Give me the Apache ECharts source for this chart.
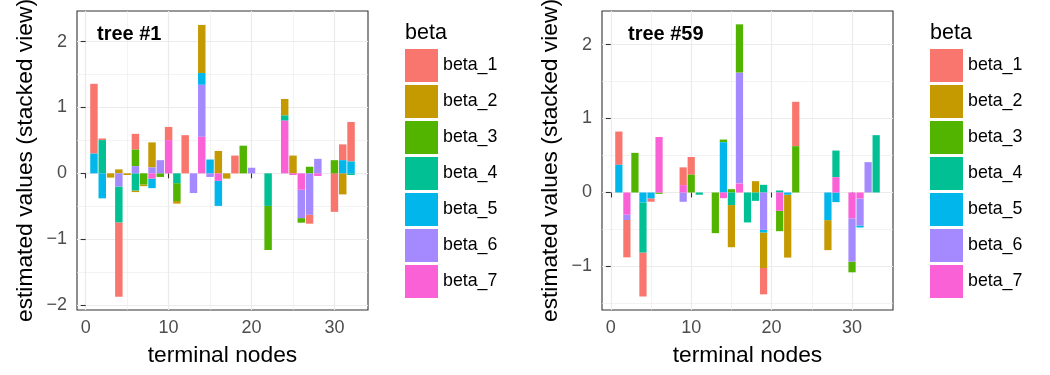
<!DOCTYPE html>
<html><head><meta charset="utf-8">
<script src="https://cdn.jsdelivr.net/npm/echarts@6/dist/echarts.min.js"></script>
<style>html,body{margin:0;padding:0;background:#fff}#c{width:1050px;height:375px}</style>
</head><body><div id="c"></div>
<script>
const betaNames = ['beta_1','beta_2','beta_3','beta_4','beta_5','beta_6','beta_7'];
const betaColors = ['#F8766D','#C49A00','#53B400','#00C094','#00B6EB','#A58AFF','#FB61D7'];
const panelTitles = ['tree #1','tree #59'];
const xTicks = [0,10,20,30];
const xMinor = [5,15,25];
const yTicks1 = [-2,-1,0,1,2];
const yTicks2 = [-1,0,1,2];
const yMinor = [-1.5,-0.5,0.5,1.5];

const nodes1 = Array.from({length:32},(_, i)=>i+1);
const nodes2 = Array.from({length:33},(_, i)=>i+1);

// tree #1 (terminal nodes 1..32)
const t1_b1 = [1.06,0.025,0,-1.13,0, 0.24,0,0,0,0.20, 0,0.58,0,0,0, 0,0,0.27,0,0, 0,0,0,0,0, 0,-0.135,0,0,-0.585, 0.24,0.60];
const t1_b2 = [0,0,-0.065,0.06,-0.025, -0.025,-0.025,0.38,0,0, -0.04,0,0,0.73,0, 0.34,-0.08,0,0,0, 0,0,0,0.25,0.27, 0,0,0,0,0, -0.32,0];
const t1_b3 = [0,0,0,0,0, 0.25,-0.17,0,-0.055,0, -0.27,0,0,0,0, 0,0,0,0.42,0, 0,-0.67,0,0,0, -0.07,0.10,0,0,0.20, 0,0];
const t1_b4 = [0,0.505,0,-0.545,0, -0.26,0,0,0,0, -0.15,0,0,0,0, 0,0,0,0,0, 0,-0.495,0,0.08,0, 0,0,0,0,0, 0,-0.025];
const t1_b5 = [0.30,-0.38,0,0,0, 0,0,-0.145,0,0, 0,0,0,0.18,0.21, -0.38,0,0,0,0, 0,0,0,0,0, 0,0,0,0,0, 0.20,0.18];
const t1_b6 = [0,0,0,-0.20,0, 0.11,0,0.09,0.20,0, 0,0,-0.30,0.79,-0.055, 0,0,0,0,0.085, 0,0,0,0,0, -0.43,-0.63,0.22,0,0, 0,0];
const t1_b7 = [0,0,0,0,0, 0,0,-0.08,0,0.505, 0,0,0,0.555,0, -0.115,0,0,0,0, 0,0,0,0.80,-0.025, -0.25,0,-0.04,0,0, 0,0];

// tree #59 (terminal nodes 1..33)
const t2_b1 = [0.45,-0.505,0,-0.595,-0.045, 0,0,0,0.24,0.24, 0,0,0,0,0, 0,0,0,-0.356,0, 0,0,0.60,0,0, 0,0,0,0,0, 0,0,0];
const t2_b2 = [0,0,0,0,0, 0,0,0,0,0, 0,0,0,0,-0.57, 0,0,0.153,-0.48,0, 0,-0.85,0,0,0, 0,-0.405,0,0,0, 0,0,0];
const t2_b3 = [0,0,0.536,0,0, -0.018,0,0,0,0.24, 0,0,-0.55,0.036,0.045, 0.653,0,0,0,0, -0.275,0,0.626,0,0, 0,0,0,0,-0.144, 0,0,0];
const t2_b4 = [0,0,0,-0.676,0, 0,0,0,0,0, -0.03,0,0,0,-0.17, 0,-0.405,-0.113,0.104,0, 0.027,0,0,0,0, 0,0,0.36,0,0, 0,0,0.775];
const t2_b5 = [0.374,0,0,-0.135,-0.08, 0,0,0,0,0, 0,0,0,0.68,0, 0,0,0,-0.036,0, 0,-0.03,0,0,0, 0,-0.374,-0.13,0,0, -0.027,0,0];
const t2_b6 = [0,-0.072,0,0,0, 0,0,0,-0.126,0, 0,0,0,0,0, 1.50,0,0,-0.505,0, 0,0,0,0,0, 0,0,0,0,-0.585, -0.365,0.41,0];
const t2_b7 = [0,-0.30,0,0,0, 0.75,0,0,0.10,0, 0,0,0,-0.077,0, 0.12,0,0,0,0, -0.248,0,0,0,0, 0,0,0.207,0,-0.35, -0.081,0,0];

const tree1 = [t1_b1,t1_b2,t1_b3,t1_b4,t1_b5,t1_b6,t1_b7];
const tree2 = [t2_b1,t2_b2,t2_b3,t2_b4,t2_b5,t2_b6,t2_b7];

const FONT = '"Liberation Sans", Arial, sans-serif';
const BAR_W = 0.9; // bar width in x-axis units (ggplot default)
const minus = v => String(v).replace('-', '\u2212');

function xAxes(grid, min, max) {
  return [
    { type:'value', gridIndex:grid, min:min, max:max, position:'bottom',
      axisLine:{show:false},
      axisTick:{show:true, length:5, customValues:xTicks, lineStyle:{color:'#333333', width:1.1}},
      axisLabel:{customValues:xTicks, margin:9, fontSize:18, color:'#4D4D4D', fontFamily:FONT},
      splitLine:{show:true, lineStyle:{color:'#EBEBEB', width:1.2}},
      name:'terminal nodes', nameLocation:'middle', nameGap:34,
      nameTextStyle:{fontSize:22.8, color:'#000', fontFamily:FONT} },
    { type:'value', gridIndex:grid, min:min, max:max, position:'bottom',
      axisLine:{show:false}, axisLabel:{show:false},
      axisTick:{show:false, customValues:xMinor},
      splitLine:{show:true, lineStyle:{color:'#EBEBEB', width:0.6}} }
  ];
}
function yAxes(grid, min, max, ticks) {
  return [
    { type:'value', gridIndex:grid, min:min, max:max, position:'left',
      axisLine:{show:false},
      axisTick:{show:true, length:5, customValues:ticks, lineStyle:{color:'#333333', width:1.1}},
      axisLabel:{customValues:ticks, margin:10, fontSize:18, color:'#4D4D4D', fontFamily:FONT, formatter:minus},
      splitLine:{show:true, lineStyle:{color:'#EBEBEB', width:1.2}},
      name:'estimated values (stacked view)', nameLocation:'middle', nameGap:40, nameRotate:90,
      nameTextStyle:{fontSize:22.8, color:'#000', fontFamily:FONT} },
    { type:'value', gridIndex:grid, min:min, max:max, position:'left',
      axisLine:{show:false}, axisLabel:{show:false},
      axisTick:{show:false, customValues:yMinor},
      splitLine:{show:true, lineStyle:{color:'#EBEBEB', width:0.6}} }
  ];
}

// ggplot-style position_stack: positives stack upward, negatives downward,
// beta_7 closest to zero, beta_1 furthest.
function stackTree(tree, nodes) {
  const segs = tree.map(() => []);
  nodes.forEach((n, i) => {
    let pos = 0, neg = 0;
    for (let k = tree.length - 1; k >= 0; k--) {
      const v = tree[k][i];
      if (!v) continue;
      if (v > 0) { segs[k].push([n, pos, pos + v]); pos += v; }
      else { segs[k].push([n, neg, neg + v]); neg += v; }
    }
  });
  return segs;
}

function renderBar(params, api) {
  const x = api.value(0), y0 = api.value(1), y1 = api.value(2);
  const a = api.coord([x - BAR_W / 2, Math.max(y0, y1)]);
  const b = api.coord([x + BAR_W / 2, Math.min(y0, y1)]);
  return { type:'rect', shape:{x:a[0], y:a[1], width:b[0]-a[0], height:b[1]-a[1]},
           style:{fill:api.visual('color')} };
}

function buildSeries(tree, nodes, axisIdx) {
  const segs = stackTree(tree, nodes);
  const out = [];
  for (let k = 0; k < tree.length; k++) {
    out.push({
      type:'custom', name:betaNames[k], xAxisIndex:axisIdx, yAxisIndex:axisIdx,
      itemStyle:{color:betaColors[k]}, clip:true, silent:true,
      encode:{x:0, y:[1,2]}, renderItem:renderBar, data:segs[k]
    });
  }
  return out;
}

function legendCfg(left) {
  return { left:left, top:49, orient:'vertical', itemWidth:33, itemHeight:33, itemGap:3,
    icon:'rect', padding:0, selectedMode:false, data:betaNames,
    textStyle:{fontSize:17.8, color:'#000', fontFamily:FONT} };
}

const chart = echarts.init(document.getElementById('c'));
chart.setOption({
  animation:false,
  backgroundColor:'#fff',
  title:[
    {text:panelTitles[0], left:97, top:24, padding:0, textStyle:{fontSize:20, fontWeight:'bold', color:'#000', fontFamily:FONT}},
    {text:panelTitles[1], left:628, top:24, padding:0, textStyle:{fontSize:20, fontWeight:'bold', color:'#000', fontFamily:FONT}},
    {text:'beta', left:405, top:22, padding:0, textStyle:{fontSize:21.5, fontWeight:'normal', color:'#000', fontFamily:FONT}},
    {text:'beta', left:930, top:22, padding:0, textStyle:{fontSize:21.5, fontWeight:'normal', color:'#000', fontFamily:FONT}}
  ],
  legend:[legendCfg(405), legendCfg(930)],
  grid:[
    {left:77, top:11, width:291, height:299, show:true, borderColor:'#333333', borderWidth:1.1, backgroundColor:'#fff', containLabel:false, outerBoundsMode:'none'},
    {left:602, top:11, width:291, height:299, show:true, borderColor:'#333333', borderWidth:1.1, backgroundColor:'#fff', containLabel:false, outerBoundsMode:'none'}
  ],
  xAxis:[...xAxes(0,-1.045,34.045), ...xAxes(1,-1.095,35.095)],
  yAxis:[...yAxes(0,-2.0765,2.4665,yTicks1), ...yAxes(1,-1.5885,2.4535,yTicks2)],
  series:[...buildSeries(tree1,nodes1,0), ...buildSeries(tree2,nodes2,2)]
});
</script></body></html>
